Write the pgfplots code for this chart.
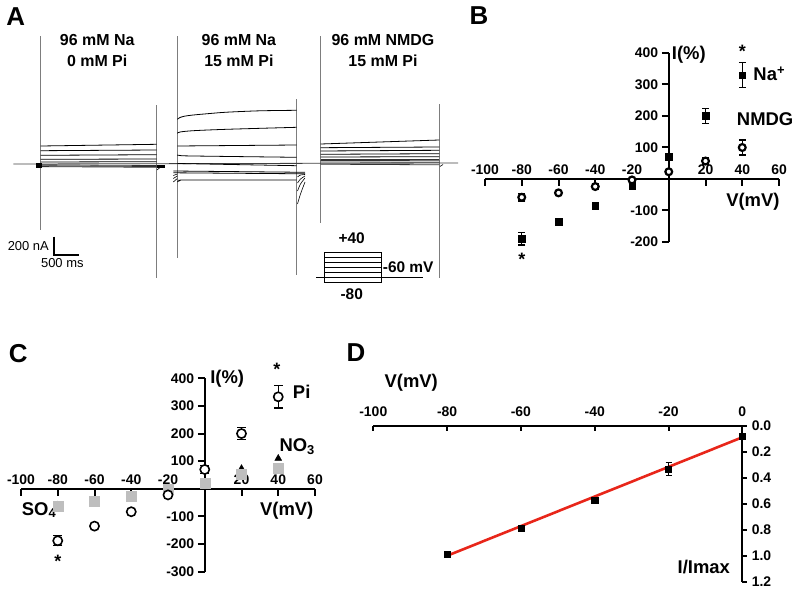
\documentclass[border=0pt]{standalone}
\usepackage{pgfplots}
\pgfplotsset{compat=1.18}
\usepackage{fontspec}
\setmainfont{Liberation Sans}
\definecolor{sqgray}{RGB}{190,190,190}
\definecolor{fitred}{RGB}{232,38,26}
\definecolor{vgray}{RGB}{125,125,125}
\newcommand{\fs}[1]{\fontsize{#1}{#1}\selectfont}
\begin{document}
\begin{tikzpicture}
\useasboundingbox (0,0) rectangle (800bp,593bp);

% ---------------- Panel A ----------------
\begin{axis}[at={(0bp,293bp)}, anchor=south west, scale only axis,
  width=440bp, height=300bp, xmin=0, xmax=440, ymin=0, ymax=300,
  y dir=reverse, hide axis, clip=false, no markers]
% vertical step markers
\addplot[vgray, line width=0.7bp] coordinates {(40.7,36) (40.7,230)};
\addplot[vgray, line width=0.7bp] coordinates {(156.7,105) (156.7,278)};
\addplot[vgray, line width=0.7bp] coordinates {(177.3,36) (177.3,258)};
\addplot[vgray, line width=0.7bp] coordinates {(296.7,99) (296.7,275)};
\addplot[vgray, line width=0.7bp] coordinates {(320.7,36) (320.7,223)};
\addplot[vgray, line width=0.7bp] coordinates {(439.3,104) (439.3,278)};
% baseline
\addplot[black!75, line width=0.8bp] coordinates {(13.3,164) (458,163)};
% group 1
\addplot[black, line width=0.8bp] coordinates {(40.7,146) (156.7,144.3)};
\addplot[black, line width=0.8bp] coordinates {(40.7,150.7) (156.7,150)};
\addplot[black, line width=0.8bp] coordinates {(40.7,155.3) (156.7,154.7)};
\addplot[black, line width=0.8bp] coordinates {(40.7,159.3) (156.7,159)};
\addplot[black, line width=0.8bp] coordinates {(40.7,162) (156.7,161.7)};
\addplot[black!80, line width=0.8bp] coordinates {(40.7,164.8) (156.7,165.5)};
\addplot[black!80, line width=0.8bp] coordinates {(40.7,165.8) (156.7,166.5)};
\addplot[black!80, line width=0.8bp] coordinates {(40.7,166.6) (156.7,167.3)};
\addplot[black, fill=black] coordinates {(36,163.3) (40.7,163.3) (40.7,166.7) (36,166.7)} -- cycle;
\addplot[black, fill=black] coordinates {(156.7,164.7) (164,164.7) (164,167.3) (156.7,167.3)} -- cycle;
\addplot[black, line width=0.6bp] coordinates {(157,170) (160,167.5) (163,166.5)};
% group 2
\addplot[black, line width=0.8bp, smooth] coordinates {(177.3,119.3) (180,117.5) (185,116.1) (193.3,115) (210,113.5) (226.7,112.2) (260,110.8) (296.7,110.3)};
\addplot[black, line width=0.8bp, smooth] coordinates {(177.3,133.3) (180,132) (193.3,130.7) (226.7,129.3) (296.7,127.3)};
\addplot[black, line width=0.8bp] coordinates {(177.3,146) (296.7,145)};
\addplot[black, line width=0.8bp, smooth] coordinates {(177.3,155) (180,155.5) (193.3,156) (296.7,157.3)};
\addplot[black, line width=0.8bp] coordinates {(177.3,163.5) (296.7,165.7)};
\addplot[black, line width=0.8bp] coordinates {(173.3,171) (305,172.3)};
\addplot[black, line width=0.8bp] coordinates {(173.3,172.8) (305,173.8)};
\addplot[black, line width=0.8bp, smooth] coordinates {(177.3,182) (180,180.5) (190,180) (296.7,180)};
\addplot[black, line width=0.6bp] coordinates {(173.3,175.5) (177.3,174)};
\addplot[black, line width=0.6bp] coordinates {(173.3,178.5) (177.3,176)};
\addplot[black, line width=0.6bp] coordinates {(173.3,182) (177.3,178.5)};
\addplot[black, line width=0.6bp, smooth] coordinates {(297.5,177) (300.5,175) (305,174.5)};
\addplot[black, line width=0.6bp, smooth] coordinates {(297.5,183) (300.5,179) (305,176)};
\addplot[black, line width=0.6bp, smooth] coordinates {(297.5,191) (300.5,184) (305,178)};
\addplot[black, line width=0.6bp, smooth] coordinates {(297.5,204) (300.5,194) (305,182)};
% group 3
\addplot[black, line width=0.8bp] coordinates {(320.7,144) (439.3,140)};
\addplot[black, line width=0.8bp] coordinates {(320.7,147.7) (439.3,147)};
\addplot[black, line width=0.8bp] coordinates {(320.7,151) (439.3,150.3)};
\addplot[black, line width=0.8bp] coordinates {(320.7,154.3) (439.3,153.7)};
\addplot[black, line width=0.8bp] coordinates {(320.7,157) (439.3,156.7)};
\addplot[black!80, line width=0.8bp] coordinates {(320.7,159) (439.3,159)};
\addplot[black!80, line width=0.8bp] coordinates {(320.7,160.5) (439.3,160.7)};
\addplot[black!80, line width=0.8bp] coordinates {(320.7,162) (439.3,162.3)};
\addplot[black!80, line width=0.8bp] coordinates {(320.7,164.2) (439.3,164.8)};
\addplot[black, line width=0.6bp] coordinates {(440,166.5) (443,164.5)};
% voltage protocol
\addplot[black, line width=0.8bp] coordinates {(316,277.4) (423.3,277.4)};
\addplot[black, line width=0.8bp] coordinates {(324.3,252.7) (381.7,252.7) (381.7,282.3) (324.3,282.3)} -- cycle;
\addplot[black, line width=0.7bp] coordinates {(324.3,257.6) (381.7,257.6)};
\addplot[black, line width=0.7bp] coordinates {(324.3,262.6) (381.7,262.6)};
\addplot[black, line width=0.7bp] coordinates {(324.3,267.5) (381.7,267.5)};
\addplot[black, line width=0.7bp] coordinates {(324.3,272.4) (381.7,272.4)};
% scale bar
\addplot[black, line width=1.8bp] coordinates {(54,236.7) (54,255.5)};
\addplot[black, line width=2bp] coordinates {(54,254.7) (79,254.7)};
% texts
\node[font=\bfseries\fontsize{16}{21}\selectfont, align=center] at (axis cs:97.2,50.5) {96 mM Na\\0 mM Pi};
\node[font=\bfseries\fontsize{16}{21}\selectfont, align=center] at (axis cs:238.9,50.5) {96 mM Na\\15 mM Pi};
\node[font=\bfseries\fontsize{16}{21}\selectfont, align=center] at (axis cs:383,50.5) {96 mM NMDG\\15 mM Pi};
\node[font=\fs{13}, anchor=east, inner sep=0pt] at (axis cs:49,246) {200 nA};
\node[font=\fs{13}, inner sep=0pt] at (axis cs:62.3,263) {500 ms};
\node[font=\bfseries\fs{15.5}, inner sep=0pt] at (axis cs:351.7,238) {+40};
\node[font=\bfseries\fs{15.5}, inner sep=0pt] at (axis cs:351.7,294) {-80};
\node[font=\bfseries\fs{15.5}, anchor=west, inner sep=0pt] at (axis cs:382.7,267.3) {-60 mV};
\end{axis}

% panel letters
\node[font=\bfseries\fs{26}] at (15.8bp,576.7bp) {A};
\node[font=\bfseries\fs{26}] at (479bp,577bp) {B};
\node[font=\bfseries\fs{26}] at (18.3bp,239bp) {C};
\node[font=\bfseries\fs{26}] at (356bp,240bp) {D};

% ---------------- Panel B ----------------
\begin{axis}[at={(485bp,351bp)}, anchor=south west, scale only axis,
  width=294bp, height=189bp, xmin=-100, xmax=60, ymin=-200, ymax=400, clip=false,
  axis lines=middle, axis line style={line width=2.2bp,-},
  xtick={-100,-80,-60,-40,-20,20,40,60}, ytick={-200,-100,100,200,300,400},
  tick align=outside, major tick length=7bp, tick style={line width=2bp, black},
  /pgf/number format/assume math mode=true,
  ticklabel style={font=\bfseries\fs{14}},
  xticklabel style={anchor=south, yshift=8bp},
  yticklabel style={anchor=east}]
\addplot[only marks, mark=square*, mark size=3.3bp, black,
  error bars/.cd, y dir=both, y explicit,
  error bar style={line width=1.3bp},
  error mark options={rotate=90, mark size=3.5bp, line width=1.3bp}]
  coordinates {(-80,-190) +- (0,20) (-60,-136) +- (0,10) (-40,-85) +- (0,4) (-20,-21) +- (0,5) (0,70) +- (0,5) (20,200) +- (0,24) (40,330) +- (0,40)};
\addplot[only marks, mark=*, mark size=3.4bp, black, line width=2.2bp, mark options={draw=black, fill=white, line width=2.2bp},
  error bars/.cd, y dir=both, y explicit,
  error bar style={line width=1.3bp},
  error mark options={rotate=90, mark size=3.5bp, line width=1.3bp}]
  coordinates {(-80,-58) +- (0,12) (-60,-44) +- (0,4) (-40,-24) +- (0,8) (-20,-3) +- (0,5) (0,23) +- (0,5) (20,57) +- (0,10) (40,100) +- (0,24)};
\node[anchor=west, inner sep=0pt, font=\bfseries\fs{18.5}] at (axis cs:1.6,394) {I(\%)};
\node[anchor=north, inner sep=0pt, font=\bfseries\fs{18}] at (axis cs:40,425) {*};
\node[anchor=north, inner sep=0pt, font=\bfseries\fs{18}] at (axis cs:-80,-236) {*};
\node[anchor=west, inner sep=0pt, font=\bfseries\fs{18.5}] at (axis cs:46,333) {Na\textsuperscript{+}};
\node[anchor=west, inner sep=0pt, font=\bfseries\fs{18.5}] at (axis cs:37,190) {NMDG};
\node[anchor=west, inner sep=0pt, font=\bfseries\fs{18.5}] at (axis cs:31.2,-72) {V(mV)};
\end{axis}

% ---------------- Panel C ----------------
\begin{axis}[at={(21bp,21.3bp)}, anchor=south west, scale only axis,
  width=294bp, height=193.4bp, xmin=-100, xmax=60, ymin=-300, ymax=400, clip=false,
  axis lines=middle, axis line style={line width=2.2bp,-},
  xtick={-100,-80,-60,-40,-20,20,40,60}, ytick={-300,-200,-100,100,200,300,400},
  tick align=outside, major tick length=7bp, tick style={line width=2bp, black},
  /pgf/number format/assume math mode=true,
  ticklabel style={font=\bfseries\fs{14}},
  xticklabel style={anchor=south, yshift=8bp},
  yticklabel style={anchor=east}]
\addplot[only marks, mark=triangle*, mark size=4bp, black]
  coordinates {(-80,-60) (-60,-44) (-40,-26) (-20,-3) (0,20) (20,73) (40,110)};
\addplot[only marks, mark=square*, mark size=5bp, sqgray]
  coordinates {(-80,-62) (-60,-44) (-40,-26) (-20,-3) (0,20) (20,54) (40,76)};
\addplot[only marks, mark=*, mark size=4.6bp, black, line width=1.6bp, mark options={draw=black, fill=white, line width=1.6bp},
  error bars/.cd, y dir=both, y explicit,
  error bar style={line width=1.3bp},
  error mark options={rotate=90, mark size=4.5bp, line width=1.3bp}]
  coordinates {(-80,-188) +- (0,18) (-60,-135) +- (0,0) (-40,-83) +- (0,0) (-20,-22) +- (0,0) (0,70) +- (0,15) (20,200) +- (0,22) (40,333) +- (0,40)};
\node[anchor=west, inner sep=0pt, font=\bfseries\fs{18.5}] at (axis cs:2.9,400) {I(\%)};
\node[anchor=north, inner sep=0pt, font=\bfseries\fs{18}] at (axis cs:39.2,454) {*};
\node[anchor=north, inner sep=0pt, font=\bfseries\fs{18}] at (axis cs:-80,-240) {*};
\node[anchor=west, inner sep=0pt, font=\bfseries\fs{18.5}] at (axis cs:47.9,351) {Pi};
\node[anchor=west, inner sep=0pt, font=\bfseries\fs{18.5}] at (axis cs:40.6,152) {NO\textsubscript{3}};
\node[anchor=west, inner sep=0pt, font=\bfseries\fs{18.5}] at (axis cs:-99.6,-77) {SO\textsubscript{4}};
\node[anchor=west, inner sep=0pt, font=\bfseries\fs{18.5}] at (axis cs:30,-79) {V(mV)};
\end{axis}

% ---------------- Panel D ----------------
\begin{axis}[at={(373.3bp,11.3bp)}, anchor=south west, scale only axis,
  width=369bp, height=155.7bp, xmin=-100, xmax=0, ymin=0, ymax=1.2, y dir=reverse, clip=false,
  axis x line=middle, axis y line=middle, axis line style={line width=2.2bp,-},
  hide obscured x ticks=false, hide obscured y ticks=false,
  xtick={-100,-80,-60,-40,-20,0}, ytick={0,0.2,0.4,0.6,0.8,1.0,1.2},
  tick align=inside, major tick length=5bp, tick style={line width=2bp, black},
  /pgf/number format/assume math mode=true,
  ticklabel style={font=\bfseries\fs{14}},
  xticklabel style={anchor=south, yshift=6bp},
  yticklabel style={anchor=west, xshift=6bp, /pgf/number format/.cd, fixed, fixed zerofill, precision=1}]
\addplot[fitred, line width=2.6bp, no markers] coordinates {(-80,1.0) (0,0.087)};
\addplot[only marks, mark=square*, mark size=3.1bp, black,
  error bars/.cd, y dir=both, y explicit,
  error bar style={line width=1bp},
  error mark options={rotate=90, mark size=3bp, line width=1bp}]
  coordinates {(-80,0.985) +- (0,0) (-60,0.789) +- (0,0.01) (-40,0.571) +- (0,0.01) (-20,0.334) +- (0,0.05) (0,0.077) +- (0,0.01)};
\node[anchor=west, inner sep=0pt, font=\bfseries\fs{18.5}] at (axis cs:-97,-0.334) {V(mV)};
\node[anchor=east, inner sep=0pt, font=\bfseries\fs{18.5}] at (axis cs:-3.3,1.085) {I/Imax};
\end{axis}
\end{tikzpicture}
\end{document}
